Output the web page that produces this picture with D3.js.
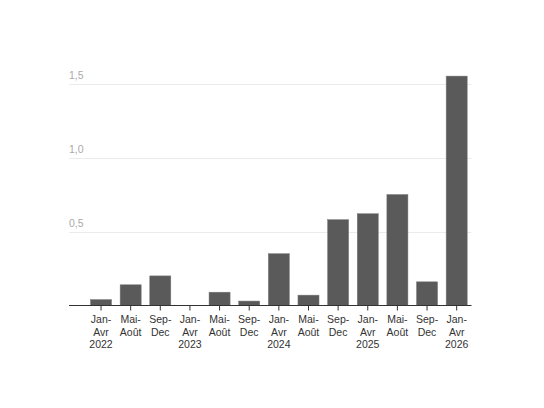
<!DOCTYPE html>
<meta charset="utf-8">
<style>
	body { margin: 0; background: #fff; }
	.bar { fill: #5a5a5a; stroke: #7a7a7a; stroke-width: 0.5; }
	.grid line { stroke: #ebebeb; stroke-width: 1; }
	.ylab { font: 10.5px "Liberation Sans", Arial, sans-serif; fill: #aaa; }
	.xlab { font: 10.5px "Liberation Sans", Arial, sans-serif; fill: #333; }
</style>
<body>
<script src="https://d3js.org/d3.v7.min.js"></script>
<script>
var periods = ["Jan-Avr", "Mai-Août", "Sep-Dec", "Jan-Avr", "Mai-Août", "Sep-Dec", "Jan-Avr",
               "Mai-Août", "Sep-Dec", "Jan-Avr", "Mai-Août", "Sep-Dec", "Jan-Avr"];
var years = ["2022", "", "", "2023", "", "", "2024", "", "", "2025", "", "", "2026"];
var values = [0.04, 0.14, 0.2, 0, 0.09, 0.03, 0.35, 0.07, 0.58, 0.62, 0.75, 0.16, 1.55];
var yTicks = [0.5, 1.0, 1.5];

var width = 544, height = 408;
var left = 69, right = 471.5, base = 305.5;

var svg = d3.select("body").append("svg")
    .attr("width", width)
    .attr("height", height);

var ids = periods.map(function(p, i) { return i; });

// set the ranges
var x = d3.scaleBand()
    .domain(ids)
    .range([86.2, right])
    .paddingInner(0.29)
    .paddingOuter(0.145);

var y = d3.scaleLinear()
    .domain([0, 1.5])
    .range([base, 83.5]);

// gridlines
svg.append("g")
    .attr("class", "grid")
    .selectAll("line")
    .data(yTicks)
    .enter().append("line")
    .attr("x1", left)
    .attr("x2", right)
    .attr("y1", function(d) { return Math.round(y(d)) + 0.5; })
    .attr("y2", function(d) { return Math.round(y(d)) + 0.5; });

svg.selectAll(".ylab")
    .data(yTicks)
    .enter().append("text")
    .attr("class", "ylab")
    .attr("x", left)
    .attr("y", function(d) { return y(d) - 4.5; })
    .text(function(d) { return d3.format(".1f")(d).replace(".", ","); });

// bars
svg.selectAll(".bar")
    .data(values)
    .enter().append("rect")
    .attr("class", "bar")
    .attr("x", function(d, i) { return x(i); })
    .attr("width", x.bandwidth())
    .attr("y", function(d) { return y(d); })
    .attr("height", function(d) { return base - y(d); });

// x axis
var axis = svg.append("g")
    .attr("transform", "translate(0," + base + ")");

axis.append("line")
    .attr("x1", left)
    .attr("x2", right)
    .attr("stroke", "#333")
    .attr("stroke-width", 1);

axis.selectAll(".tick")
    .data(ids)
    .enter().append("line")
    .attr("x1", function(i) { return x(i) + x.bandwidth() / 2; })
    .attr("x2", function(i) { return x(i) + x.bandwidth() / 2; })
    .attr("y1", 0)
    .attr("y2", 5)
    .attr("stroke", "#333");

var lab = axis.selectAll(".xlab")
    .data(ids)
    .enter().append("text")
    .attr("class", "xlab")
    .attr("text-anchor", "middle")
    .attr("transform", function(i) { return "translate(" + (x(i) + x.bandwidth() / 2) + ",0)"; });

lab.each(function(i) {
    var t = d3.select(this);
    var parts = periods[i].split("-");
    var lines = [parts[0] + "-", parts[1]];
    if (years[i]) lines.push(years[i]);
    lines.forEach(function(s, k) {
        t.append("tspan").attr("x", 0).attr("y", 17.5 + k * 12.5).text(s);
    });
});
</script>
</body>
